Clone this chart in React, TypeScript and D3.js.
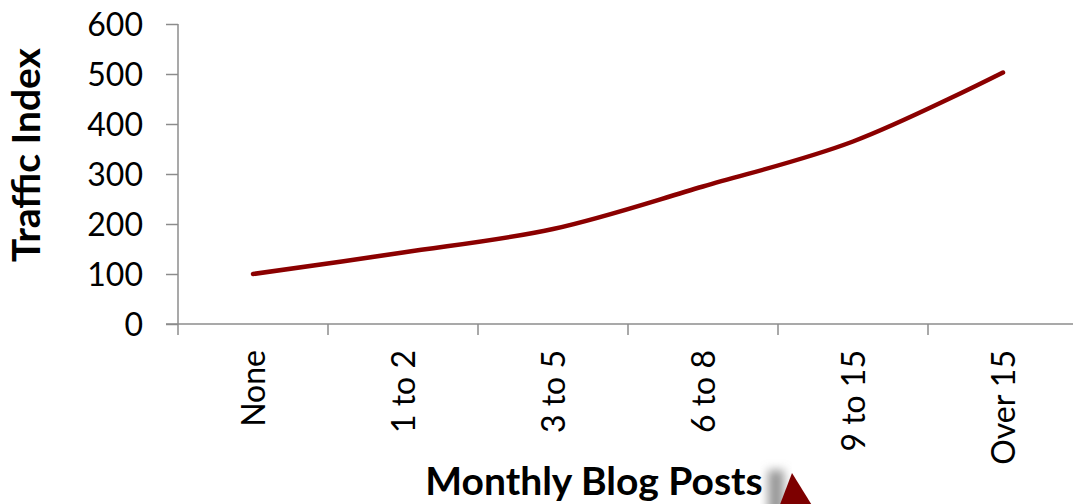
import { useRef, useEffect } from 'react'
import * as d3 from 'd3'

const categories = ['None', '1 to 2', '3 to 5', '6 to 8', '9 to 15', 'Over 15']
const trafficIndex = [100, 143, 190, 275, 365, 503]
const yTicks = [0, 100, 200, 300, 400, 500, 600]

const W = 1073
const H = 504
const LINE_RED = '#8b0000'
const AXIS_GREY = '#8c8c8c'
const FONT = 'Lato, "Open Sans", sans-serif'

export default function App() {
  const svgRef = useRef<SVGSVGElement>(null)

  useEffect(() => {
    if (!svgRef.current) return
    const svg = d3.select(svgRef.current)
    svg.selectAll('*').remove()

    const left = 178
    const top = 24
    const bottom = 324

    const x = d3.scaleBand().domain(categories).range([left, left + 150 * categories.length]).padding(0)
    const y = d3.scaleLinear().domain([0, 600]).range([bottom, top])

    // y axis
    const yAxis = svg
      .append('g')
      .attr('transform', `translate(${left},0)`)
      .call(d3.axisLeft(y).tickValues(yTicks).tickSize(12).tickPadding(23))
    yAxis.select('.domain').attr('stroke', AXIS_GREY).attr('stroke-width', 1.5).attr('d', `M0,${top}V${bottom}`)
    yAxis.selectAll('line').attr('stroke', AXIS_GREY).attr('stroke-width', 1.5)
    yAxis
      .selectAll('text')
      .attr('font-family', FONT)
      .attr('font-size', 32)
      .attr('fill', '#000')
      .attr('dy', '0.36em')

    // x axis: line across, ticks on band boundaries
    const xg = svg.append('g')
    xg.append('line')
      .attr('x1', left - 12)
      .attr('x2', W)
      .attr('y1', bottom)
      .attr('y2', bottom)
      .attr('stroke', AXIS_GREY)
      .attr('stroke-width', 1.5)
    xg.selectAll('line.tick')
      .data(categories)
      .join('line')
      .attr('class', 'tick')
      .attr('x1', (d) => x(d)!)
      .attr('x2', (d) => x(d)!)
      .attr('y1', bottom)
      .attr('y2', bottom + 11)
      .attr('stroke', AXIS_GREY)
      .attr('stroke-width', 1.5)
    xg.selectAll('text')
      .data(categories)
      .join('text')
      .attr('transform', (d) => `translate(${x(d)! + x.bandwidth() / 2 + 12},${bottom + 26}) rotate(-90)`)
      .attr('text-anchor', 'end')
      .attr('font-family', FONT)
      .attr('font-size', 32)
      .attr('fill', '#000')
      .text((d) => d)

    // line
    const line = d3
      .line<number>()
      .x((_, i) => x(categories[i])! + x.bandwidth() / 2)
      .y((d) => y(d))
      .curve(d3.curveCatmullRom.alpha(0.5))
    svg.append('path')
      .datum(trafficIndex)
      .attr('d', line)
      .attr('fill', 'none')
      .attr('stroke', LINE_RED)
      .attr('stroke-width', 4.5)
      .attr('stroke-linecap', 'round')

    // axis titles
    svg.append('text')
      .attr('transform', `translate(40,155) rotate(-90)`)
      .attr('text-anchor', 'middle')
      .attr('font-family', FONT)
      .attr('font-weight', 700)
      .attr('font-size', 39)
      .attr('fill', '#000')
      .text('Traffic Index')
    svg.append('text')
      .attr('x', 594)
      .attr('y', 495)
      .attr('text-anchor', 'middle')
      .attr('font-family', FONT)
      .attr('font-weight', 700)
      .attr('font-size', 39)
      .attr('fill', '#000')
      .text('Monthly Blog Posts')

    // decorative triangle with shadow
    const defs = svg.append('defs')
    defs.append('filter')
      .attr('id', 'tri-shadow')
      .attr('x', '-50%')
      .attr('y', '-50%')
      .attr('width', '200%')
      .attr('height', '200%')
      .append('feGaussianBlur')
      .attr('stdDeviation', 5)
    svg.append('rect')
      .attr('x', 768)
      .attr('y', 470)
      .attr('width', 16)
      .attr('height', 50)
      .attr('fill', '#999')
      .attr('filter', 'url(#tri-shadow)')
    svg.append('path')
      .attr('d', 'M792,473 L776,515 L818,515 Z')
      .attr('fill', '#7d0000')
  }, [])

  return (
    <svg
      ref={svgRef}
      width={W}
      height={H}
      style={{ position: 'absolute', left: 0, top: 0, background: '#fff' }}
    />
  )
}
